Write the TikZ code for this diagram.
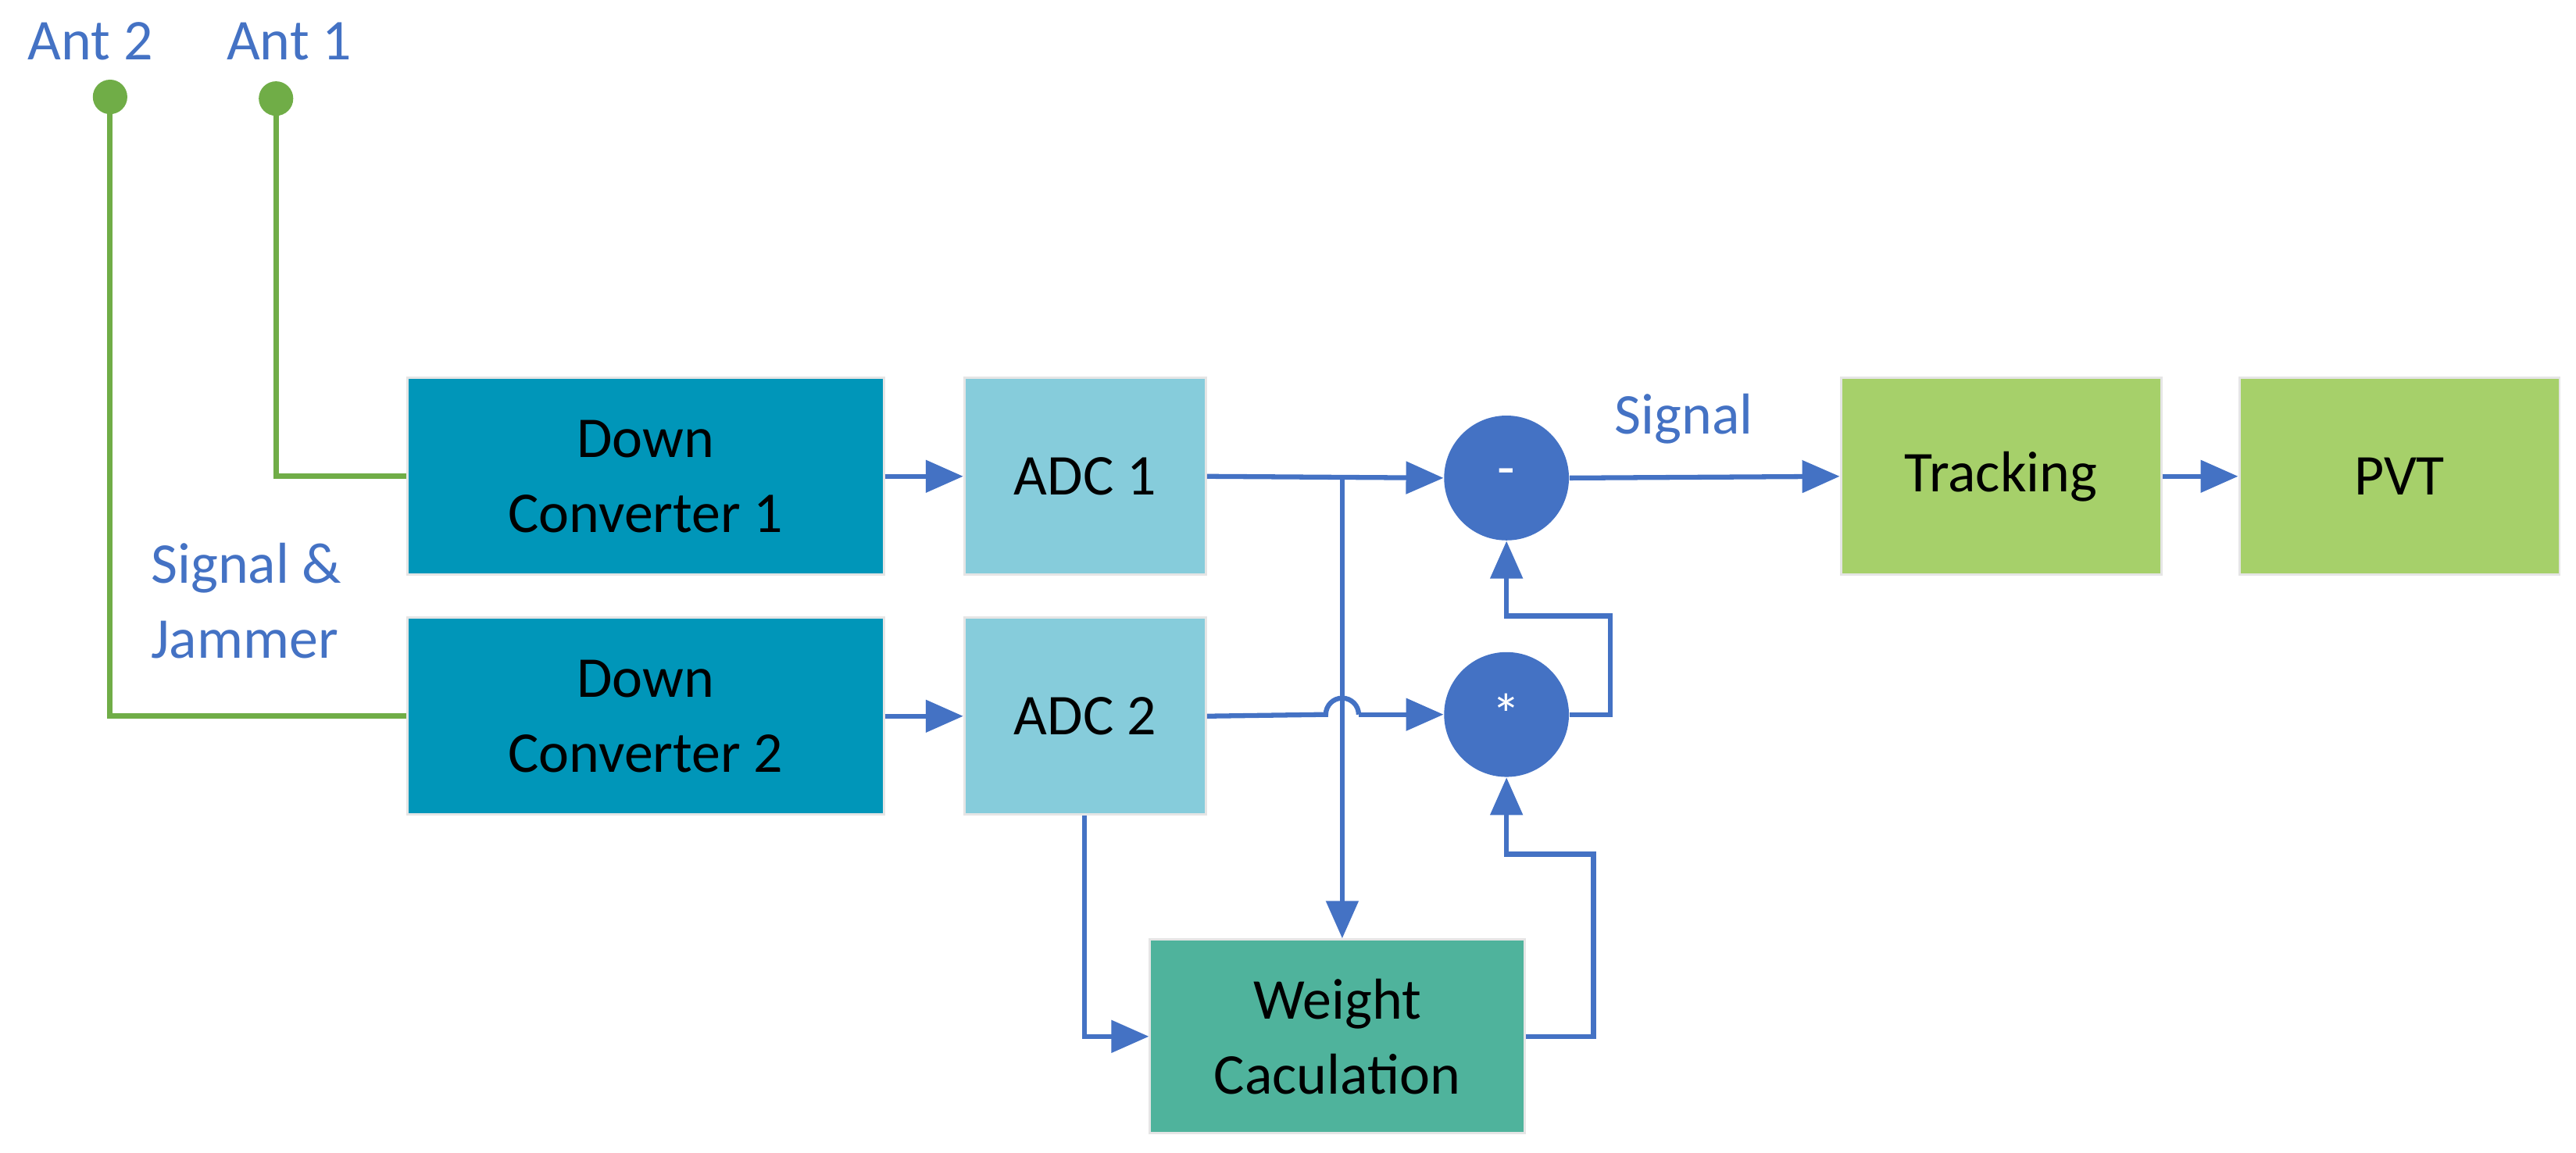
\documentclass[tikz,border=0pt]{standalone}
\usepackage{fontspec}
\setmainfont{Carlito}
\usetikzlibrary{arrows.meta}
\definecolor{dc}{RGB}{0,150,185}
\definecolor{adc}{RGB}{134,204,219}
\definecolor{blu}{RGB}{68,114,196}
\definecolor{grn}{RGB}{112,173,71}
\definecolor{trk}{RGB}{166,208,106}
\definecolor{wgt}{RGB}{79,179,156}
\begin{document}
\begin{tikzpicture}[x={(0.02cm,0)},y={(0,-0.02cm)},
 box/.style={draw=white!80!gray,line width=0.8pt,minimum width=5.8cm,minimum height=2.4cm,align=center,font=\fontsize{20}{26}\selectfont,inner sep=0pt},
 circ/.style={circle,fill=blu,minimum size=1.52cm,inner sep=0pt,text=white,font=\fontsize{20}{24}\selectfont},
 lbl/.style={text=blu,font=\fontsize{20}{26}\selectfont,align=left},
 arr/.style={draw=blu,line width=1.7pt,-{Triangle[length=13pt,width=11pt]}},
 ln/.style={draw=blu,line width=1.7pt},
 gl/.style={draw=grn,line width=1.9pt}]
\useasboundingbox (0,0) rectangle (1568,701.5);
\node[box,fill=dc] (dc1) at (393,290) {Down\\Converter 1};
\node[box,fill=dc] (dc2) at (393,436) {Down\\Converter 2};
\node[box,fill=adc,minimum width=2.94cm] (adc1) at (660.5,290) {ADC 1};
\node[box,fill=adc,minimum width=2.94cm] (adc2) at (660.5,436) {ADC 2};
\node[circ] (minus) at (917,291) {-};
\node[circ] (star) at (917,435) {*};
\node[box,fill=trk,minimum width=3.9cm] (trk) at (1218,290) {Tracking};
\node[box,fill=trk,minimum width=3.9cm] (pvt) at (1460.5,290) {PVT};
\node[box,fill=wgt,minimum width=4.56cm,minimum height=2.36cm] (w) at (814,631) {Weight\\Caculation};
\node[lbl] (a2) at (55,25) {Ant 2};
\node[lbl] (a1) at (176,25) {Ant 1};
\node[lbl] (sj) at (150,366) {Signal \&\\Jammer};
\node[lbl] (sig) at (1025,255) {Signal};
\node[circle,fill=grn,minimum size=0.42cm,inner sep=0pt] (d2) at (67,59) {};
\node[circle,fill=grn,minimum size=0.42cm,inner sep=0pt] (d1) at (168,60) {};
\draw[gl] (d1.center) |- (dc1.west);
\draw[gl] (d2.center) |- (dc2.west);
\draw[arr] (dc1.east) -- (adc1.west);
\draw[arr] (dc2.east) -- (adc2.west);
\draw[arr] (adc1.east) -- (minus.west);
\coordinate (br) at (817,291);
\draw[arr] (br) -- (br |- w.north);
\coordinate (j1) at (807,435);
\draw[ln] (adc2.east) -- (j1) arc(180:360:10);
\draw[arr] (827,435) -- (star.west);
\coordinate (c1) at (660,350);
\coordinate (c2) at (660,631);
\draw[arr] (c1 |- adc2.south) -- (c2) -- (w.west);
\coordinate (c3) at (970,631);
\draw[arr] (w.east) -- (c3) |- (970,520) -- (970,520) -| (star.south);
\coordinate (c4) at (980,375);
\draw[arr] (star.east) -| (c4) -| (minus.south);
\draw[arr] (minus.east) -- (trk.west);
\draw[arr] (trk.east) -- (pvt.west);
\end{tikzpicture}
\end{document}
